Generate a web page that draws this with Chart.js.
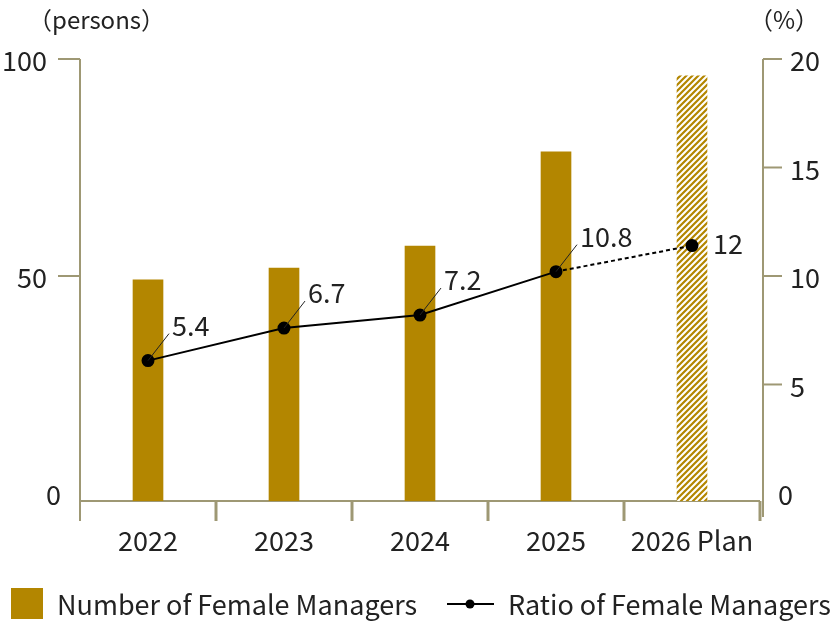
<!DOCTYPE html>
<html>
<head>
<meta charset="utf-8">
<script src="https://cdn.jsdelivr.net/npm/chart.js@4.4.1/dist/chart.umd.min.js"></script>
<style>
  html, body { margin: 0; padding: 0; background: #fff; }
  #wrap { width: 840px; height: 626px; }
</style>
</head>
<body>
<div id="wrap"><canvas id="chart" width="840" height="626"></canvas></div>
<script>
// Data
const years = ['2022', '2023', '2024', '2025', '2026 Plan'];
const managers = [49.1, 51.8, 56.9, 78.6, 96.1];      // persons (left axis)
const ratioPlotted = [6.1, 7.6, 8.2, 10.2, 11.4];     // % (right axis), as drawn
const ratioLabels = ['5.4', '6.7', '7.2', '10.8', '12'];
const leftTicks = [0, 50, 100];
const rightTicks = [0, 5, 10, 15, 20];

// the x axis line sits a little below the zero value
const LEFT_MIN = -1.84;
const RIGHT_MIN = -0.37;

const GOLD = '#B38600';
const AXIS = '#9E9874';
const TEXT = '#222';
const FONT = "'Noto Sans CJK JP', 'Noto Sans', sans-serif";

// Hatched fill for the plan bar
function makeHatch() {
  const c = document.createElement('canvas');
  c.width = 6; c.height = 6;
  const g = c.getContext('2d');
  g.fillStyle = '#fff';
  g.fillRect(0, 0, 6, 6);
  g.strokeStyle = GOLD;
  g.lineWidth = 2.2;
  g.beginPath();
  g.moveTo(-1, 7); g.lineTo(7, -1);
  g.moveTo(-4, 4); g.lineTo(4, -4);
  g.moveTo(2, 10); g.lineTo(10, 2);
  g.stroke();
  return g.createPattern(c, 'repeat');
}
const hatch = makeHatch();

// Axes, tick labels, units and legend
const decorPlugin = {
  id: 'decor',
  beforeDatasetsDraw(chart) {
    const ctx = chart.ctx;
    const y = chart.scales.y, y1 = chart.scales.y1;
    const a = chart.chartArea;
    ctx.save();
    ctx.strokeStyle = AXIS;
    ctx.lineWidth = 2;
    // left axis
    ctx.beginPath();
    ctx.moveTo(a.left, a.top);
    ctx.lineTo(a.left, a.bottom + 20);
    ctx.stroke();
    leftTicks.filter(v => v !== 0).forEach(v => {
      const py = y.getPixelForValue(v);
      ctx.beginPath();
      ctx.moveTo(58, py); ctx.lineTo(a.left, py);
      ctx.stroke();
    });
    // right axis
    ctx.beginPath();
    ctx.moveTo(763, a.top);
    ctx.lineTo(763, a.bottom + 16);
    ctx.stroke();
    rightTicks.filter(v => v !== 0).forEach(v => {
      const py = y1.getPixelForValue(v);
      ctx.beginPath();
      ctx.moveTo(763, py); ctx.lineTo(782, py);
      ctx.stroke();
    });
    // x axis
    ctx.beginPath();
    ctx.moveTo(a.left, a.bottom); ctx.lineTo(a.right, a.bottom);
    ctx.stroke();
    // category separators
    ctx.lineWidth = 3;
    const step = (a.right - a.left) / years.length;
    for (let i = 1; i <= years.length; i++) {
      const px = a.left + step * i;
      ctx.beginPath();
      ctx.moveTo(px, a.bottom); ctx.lineTo(px, a.bottom + 20);
      ctx.stroke();
    }
    ctx.restore();
  },
  afterDatasetsDraw(chart) {
    const ctx = chart.ctx;
    const x = chart.scales.x, y = chart.scales.y, y1 = chart.scales.y1;
    const a = chart.chartArea;
    ctx.save();
    ctx.fillStyle = TEXT;
    ctx.font = '27px ' + FONT;
    ctx.textBaseline = 'middle';

    // left tick labels
    ctx.textAlign = 'right';
    leftTicks.forEach(v => {
      const py = y.getPixelForValue(v) + 2;
      ctx.fillText(String(v), v === 0 ? 61 : 47, py);
    });
    // right tick labels
    ctx.textAlign = 'left';
    rightTicks.forEach(v => {
      const py = y1.getPixelForValue(v) + 2;
      ctx.fillText(String(v), v === 0 ? 778 : 790, py);
    });
    // category labels
    ctx.textAlign = 'center';
    years.forEach((t, i) => ctx.fillText(t, x.getPixelForValue(i), a.bottom + 40));

    // units
    ctx.font = '24px ' + FONT;
    ctx.textAlign = 'left';
    ctx.fillText('（persons）', 28, 20);
    ctx.fillText('（%）', 749, 20);

    // ratio labels with leader lines
    const meta = chart.getDatasetMeta(1);
    ctx.font = '27px ' + FONT;
    ctx.strokeStyle = '#222';
    ctx.lineWidth = 1;
    meta.data.forEach((pt, i) => {
      if (i === ratioLabels.length - 1) {
        ctx.fillText(ratioLabels[i], pt.x + 21, pt.y - 2);
        return;
      }
      const ex = pt.x + 21, ey = pt.y - 27;
      ctx.beginPath();
      ctx.moveTo(pt.x, pt.y); ctx.lineTo(ex, ey);
      ctx.stroke();
      ctx.fillText(ratioLabels[i], ex + 3, ey - 8);
    });

    // legend
    ctx.fillStyle = GOLD;
    ctx.fillRect(11, 588, 32, 31);
    ctx.fillStyle = TEXT;
    ctx.fillText('Number of Female Managers', 57, 605);
    ctx.strokeStyle = '#000';
    ctx.lineWidth = 2;
    ctx.beginPath();
    ctx.moveTo(447, 604); ctx.lineTo(494, 604);
    ctx.stroke();
    ctx.fillStyle = '#000';
    ctx.beginPath();
    ctx.arc(470, 604, 4.5, 0, Math.PI * 2);
    ctx.fill();
    ctx.fillStyle = TEXT;
    ctx.fillText('Ratio of Female Managers', 508, 605);
    ctx.restore();
  }
};

new Chart(document.getElementById('chart'), {
  data: {
    labels: years,
    datasets: [
      {
        type: 'bar',
        label: 'Number of Female Managers',
        data: managers,
        base: LEFT_MIN,
        yAxisID: 'y',
        backgroundColor: managers.map((v, i) => i === managers.length - 1 ? hatch : GOLD),
        barThickness: 30,
        order: 2
      },
      {
        type: 'line',
        label: 'Ratio of Female Managers',
        data: ratioPlotted,
        yAxisID: 'y1',
        borderColor: '#000',
        backgroundColor: '#000',
        borderWidth: 2,
        pointRadius: 5.5,
        pointHoverRadius: 5.5,
        tension: 0,
        segment: {
          borderDash: c => c.p1DataIndex === ratioPlotted.length - 1 ? [4, 3] : undefined
        },
        order: 1
      }
    ]
  },
  options: {
    responsive: false,
    animation: false,
    layout: { padding: { left: 80, right: 80, top: 59, bottom: 125 } },
    plugins: { legend: { display: false }, tooltip: { enabled: false } },
    scales: {
      x: { display: false, offset: true },
      y: { display: false, min: LEFT_MIN, max: 100 },
      y1: { display: false, min: RIGHT_MIN, max: 20, position: 'right' }
    }
  },
  plugins: [decorPlugin]
});
</script>
</body>
</html>
